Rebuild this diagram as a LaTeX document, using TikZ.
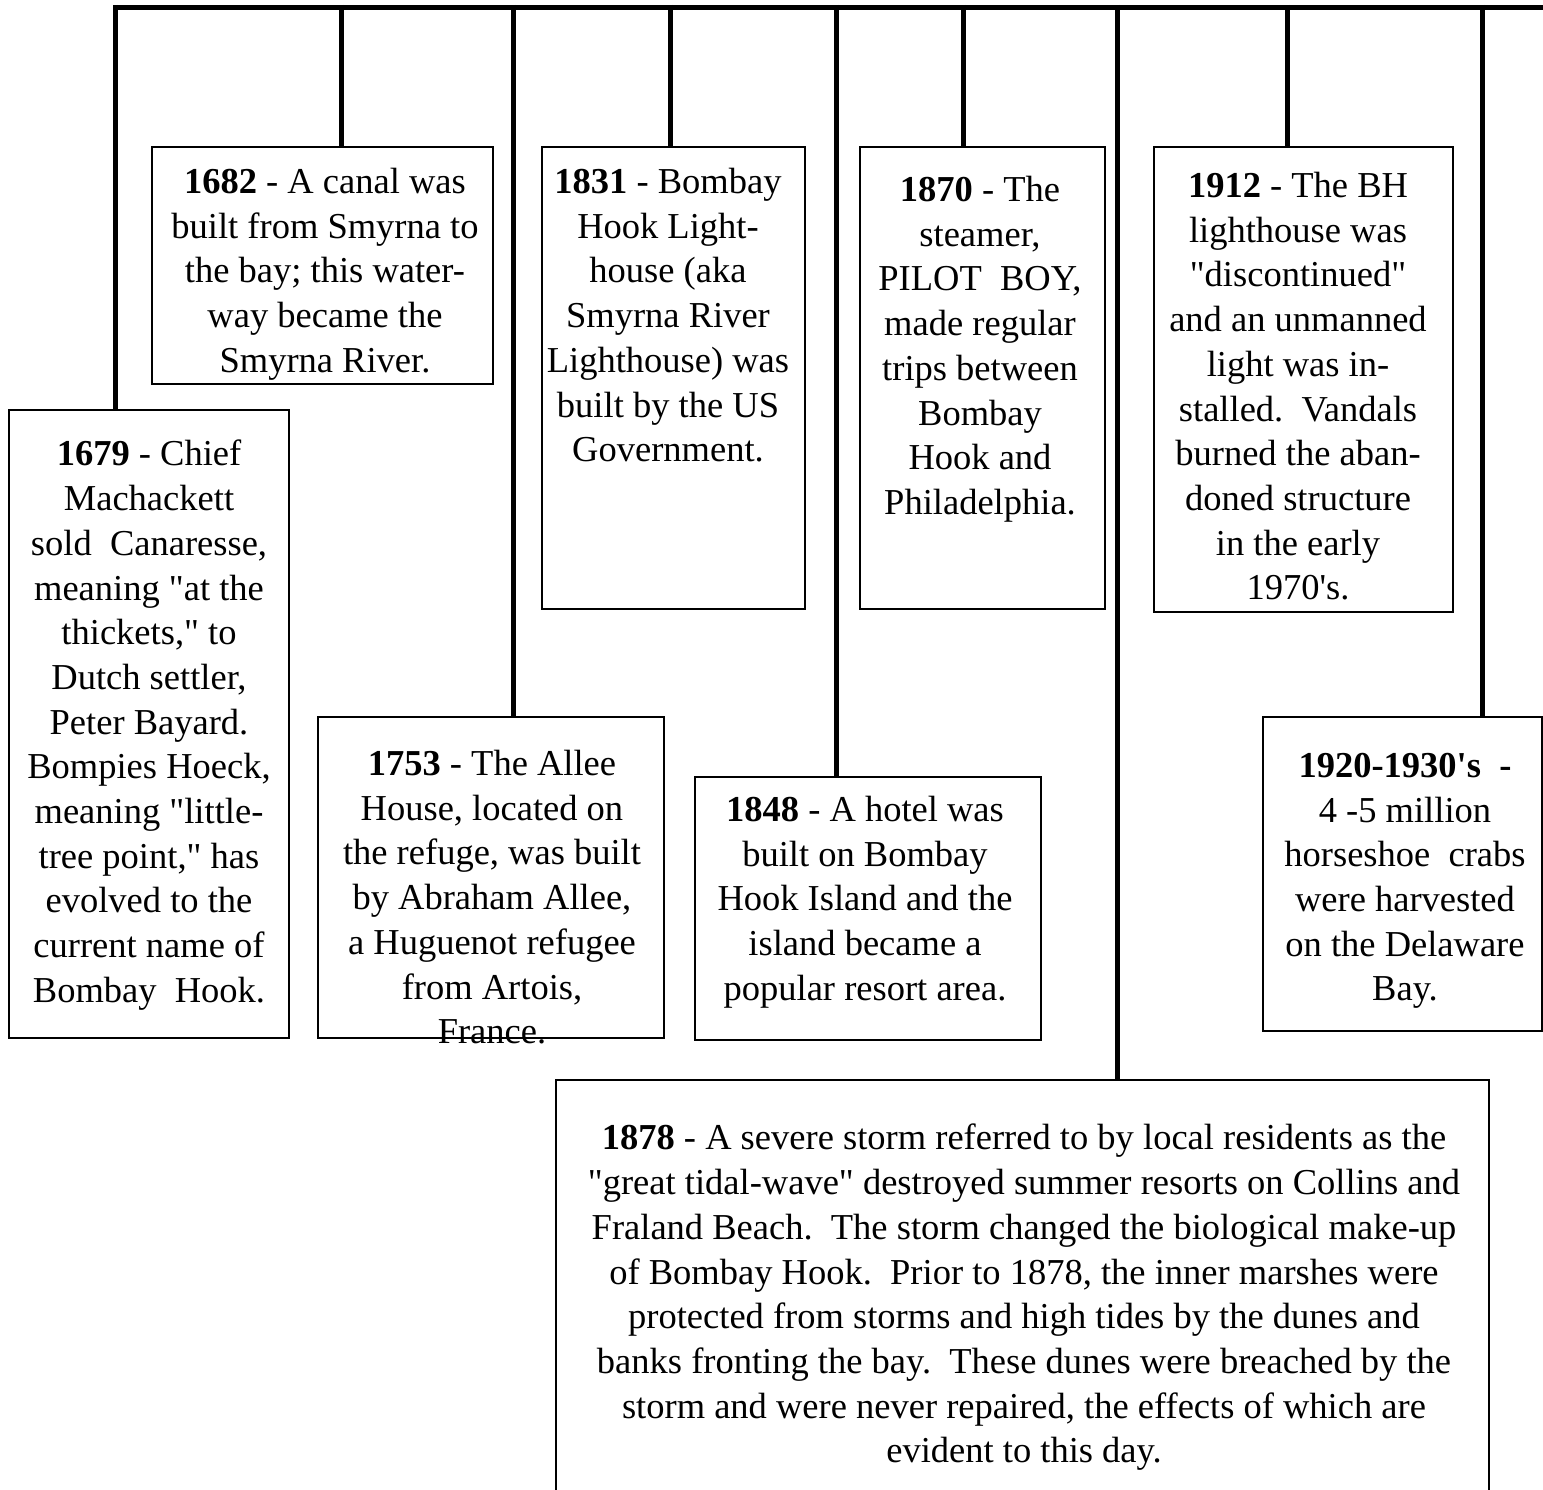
\documentclass[tikz,border=0pt]{standalone}
\usepackage{fontspec}
\setmainfont{Liberation Serif}[Ligatures=TeXOff]
\begin{document}
\begin{tikzpicture}[x=1pt,y=-1pt,
  conn/.style={line width=5pt},
  txt/.style={align=center,inner sep=0pt,anchor=north,font=\fontsize{36.5}{44.7}\selectfont},
]
\useasboundingbox (0,0) rectangle (1543,1490);
% boxes (drawn as paths through named coordinates)
\newcommand\mybox[5]{%
  \coordinate (#1-nw) at (#2,#3);
  \coordinate (#1-se) at (#4,#5);
  \draw[line width=2pt] (#1-nw) rectangle (#1-se);
}
\mybox{b1679}{9}{410}{289}{1038}
\mybox{b1682}{152}{147}{493}{384}
\mybox{b1753}{318}{717}{664}{1038}
\mybox{b1831}{542}{147}{805}{609}
\mybox{b1848}{695}{777}{1041}{1040}
\mybox{b1870}{860}{147}{1105}{609}
\mybox{b1878}{556}{1080}{1489}{1500}
\mybox{b1912}{1154}{147}{1453}{612}
\mybox{b1920}{1263}{717}{1542}{1031}

% timeline
\coordinate (tl0) at (113,7.5);
\coordinate (tl1) at (1543,7.5);
\draw[conn] (tl0) -- (tl1);
\foreach \n/\x in {b1679/115.5,b1682/341,b1753/513,b1831/670,b1848/836,b1870/963,b1878/1117,b1912/1287,b1920/1482}{
  \coordinate (c-\n) at (\x,5);
  \draw[conn] (c-\n) -- (c-\n |- \n-nw);
}

% texts
\node[txt] (t1679) at (149,440) {\textbf{1679} - Chief\\Machackett\\sold\ \ Canaresse,\\meaning "at the\\thickets," to\\Dutch settler,\\Peter Bayard.\\Bompies Hoeck,\\meaning "little-\\tree point," has\\evolved to the\\current name of\\Bombay\ \ Hook.};
\node[txt] (t1682) at (325,168) {\textbf{1682} - A canal was\\built from Smyrna to\\the bay; this water-\\way became the\\Smyrna River.};
\node[txt] (t1831) at (668,168) {\textbf{1831} - Bombay\\Hook Light-\\house (aka\\Smyrna River\\Lighthouse) was\\built by the US\\Government.};
\node[txt] (t1870) at (980,176) {\textbf{1870} - The\\steamer,\\PILOT\ \ BOY,\\made regular\\trips between\\Bombay\\Hook and\\Philadelphia.};
\node[txt] (t1912) at (1298,172) {\textbf{1912} - The BH\\lighthouse was\\"discontinued"\\and an unmanned\\light was in-\\stalled.\ \ Vandals\\burned the aban-\\doned structure\\in the early\\1970's.};
\node[txt] (t1753) at (492,750) {\textbf{1753} - The Allee\\House, located on\\the refuge, was built\\by Abraham Allee,\\a Huguenot refugee\\from Artois,\\France.};
\node[txt] (t1848) at (865,796) {\textbf{1848} - A hotel was\\built on Bombay\\Hook Island and the\\island became a\\popular resort area.};
\node[txt] (t1920) at (1405,753) {\textbf{1920-1930's\ \ -}\\4 -5 million\\horseshoe\ \ crabs\\were harvested\\on the Delaware\\Bay.};
\node[txt] (t1878) at (1024,1124) {\textbf{1878} - A severe storm referred to by local residents as the\\"great tidal-wave" destroyed summer resorts on Collins and\\Fraland Beach.\ \ The storm changed the biological make-up\\of Bombay Hook.\ \ Prior to 1878, the inner marshes were\\protected from storms and high tides by the dunes and\\banks fronting the bay.\ \ These dunes were breached by the\\storm and were never repaired, the effects of which are\\evident to this day.};
\end{tikzpicture}
\end{document}
